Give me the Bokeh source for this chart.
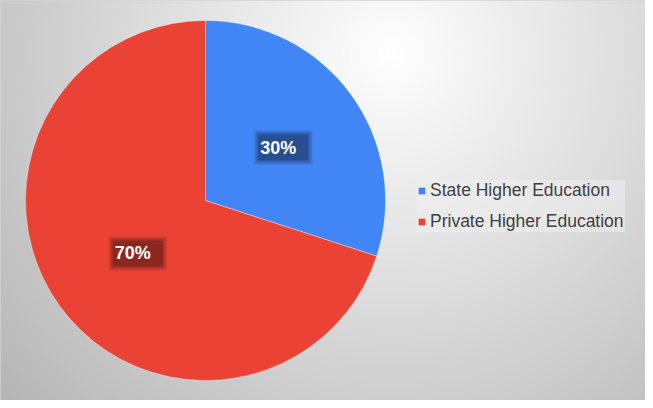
import numpy as np
from bokeh.plotting import figure
from bokeh.models import Range1d, Legend, LegendItem, ColumnDataSource
from bokeh.embed import file_html
from bokeh.resources import INLINE
from bokeh.core.properties import value

categories = ["State Higher Education", "Private Higher Education"]
shares = [30, 70]
colors = ["#4285F4", "#EA4335"]
label_texts = ["30%", "70%"]

W, H = 645, 400
CX, CY, R = 205, 200, 180

p = figure(width=W, height=H, x_range=Range1d(0, W), y_range=Range1d(0, H),
           output_backend="svg", toolbar_location=None, min_border=0)
p.axis.visible = False
p.grid.visible = False
p.outline_line_color = "#d4d4d4"
p.background_fill_color = "#e0e0e0"
p.border_fill_color = "white"

# radial gradient background
nx, ny = 323, 200
xs = np.linspace(0, W, nx)
ys = np.linspace(0, H, ny)
X, Y = np.meshgrid(xs, ys)
gx, gy = 392, H - 52
d = np.hypot(X - gx, Y - gy)
v = np.clip(255 - 0.14 * d, 0, 255).astype(np.uint8)
img = np.empty((ny, nx), dtype=np.uint32)
view = img.view(dtype=np.uint8).reshape((ny, nx, 4))
view[..., 0] = v
view[..., 1] = v
view[..., 2] = v
view[..., 3] = 255
p.image_rgba(image=[img], x=0, y=0, dw=W, dh=H)

frac = np.array(shares, dtype=float) / sum(shares)
cum = np.cumsum(frac)
start = np.pi / 2 - 2 * np.pi * (cum - frac)
end = np.pi / 2 - 2 * np.pi * cum
mid = (start + end) / 2

src = ColumnDataSource(dict(cat=categories, start=start, end=end, color=colors))
wr = p.wedge(x=CX, y=CY, radius=R, start_angle="start", end_angle="end",
             direction="clock", fill_color="color", line_color="white",
             line_width=0.6, line_alpha=0.6, source=src)

lx = CX + 0.5 * R * np.cos(mid)
ly = CY + 0.5 * R * np.sin(mid)
lab = ColumnDataSource(dict(x=lx, y=ly, bx=lx + 5, t=label_texts))
for w, h, a in [(58, 34, 0.12), (54, 30, 0.15), (50, 26, 0.2)]:
    p.rect(x="bx", y="y", width=w, height=h, fill_color="black", fill_alpha=a,
           line_color=None, source=lab)
p.text(x="x", y="y", text="t", source=lab, text_color="white",
       text_font=value("Liberation Sans"), text_font_style="bold",
       text_font_size="18px", text_align="center", text_baseline="middle")

legend = Legend(items=[LegendItem(label=c, renderers=[wr], index=i) for i, c in enumerate(categories)],
                location=(417, 168), margin=0, padding=6, spacing=10,
                glyph_width=9, glyph_height=9, label_height=20, label_width=195,
                label_standoff=4, label_text_font="Liberation Sans",
                label_text_font_size="17.5px", label_text_color="#404040",
                background_fill_color="#eeeeee", background_fill_alpha=0.55,
                border_line_color=None)
p.add_layout(legend)

open("out.html", "w").write(file_html(p, INLINE))
